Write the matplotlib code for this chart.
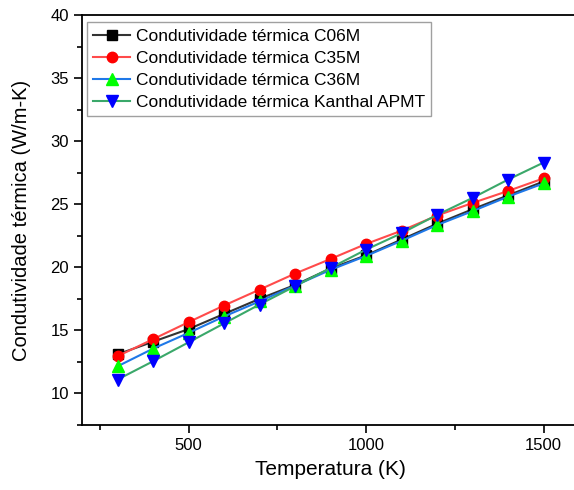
import matplotlib
matplotlib.use("Agg")
import matplotlib.pyplot as plt
from matplotlib.ticker import MultipleLocator

plt.rcParams['font.family'] = ['Liberation Sans', 'DejaVu Sans']

# temperatura (K)
temp = [300, 400, 500, 600, 700, 800, 900, 1000, 1100, 1200, 1300, 1400, 1500]

# condutividade termica (W/m-K)
k_c06m = [13.1, 14.1, 15.1, 16.3, 17.5, 18.6, 19.9, 20.95, 22.2, 23.45, 24.6, 25.7, 26.8]
k_c35m = [12.95, 14.3, 15.65, 16.97, 18.23, 19.5, 20.66, 21.85, 22.9, 24.1, 25.1, 26.05, 27.05]
k_c36m = [12.15, 13.55, 14.8, 16.1, 17.3, 18.55, 19.8, 20.9, 22.1, 23.35, 24.45, 25.6, 26.65]
k_kanthal = [11.1, 12.55, 14.05, 15.55, 17.05, 18.5, 19.95, 21.4, 22.7, 24.15, 25.5, 26.95, 28.3]

fig = plt.figure(figsize=(5.74, 4.9), dpi=100)
ax = fig.add_axes([82/574, 1 - 425/490, 497/574, 410/490])

ax.plot(temp, k_c06m, color='#333333', lw=1.5, marker='s', ms=7, mfc='black', mec='black',
        label='Condutividade térmica C06M')
ax.plot(temp, k_c35m, color='#ff4b4b', lw=1.5, marker='o', ms=7.5, mfc='red', mec='red',
        label='Condutividade térmica C35M')
ax.plot(temp, k_c36m, color='#1f78e8', lw=1.5, marker='^', ms=8, mfc='#00ff00', mec='#00ff00',
        label='Condutividade térmica C36M')
ax.plot(temp, k_kanthal, color='#3aa86a', lw=1.5, marker='v', ms=8, mfc='blue', mec='blue',
        label='Condutividade térmica Kanthal APMT')

ax.set_xlim(200, 1600)
ax.set_ylim(7.5, 40)
ax.xaxis.set_major_locator(MultipleLocator(500))
ax.xaxis.set_minor_locator(MultipleLocator(250))
ax.yaxis.set_major_locator(MultipleLocator(5))
ax.yaxis.set_minor_locator(MultipleLocator(2.5))
ax.tick_params(which='major', direction='out', length=6, width=1.2, labelsize=12)
ax.tick_params(which='minor', direction='out', length=3.5, width=1.2)
for s in ax.spines.values():
    s.set_linewidth(1.3)

ax.set_xlabel('Temperatura (K)', fontsize=15, labelpad=5)
ax.set_ylabel('Condutividade térmica (W/m-K)', fontsize=14.5, labelpad=14)

leg = ax.legend(loc='upper left', bbox_to_anchor=(0.01, 0.982), fontsize=12.5,
                frameon=True, fancybox=False, edgecolor='#888888',
                handlelength=2.15, handletextpad=0.3, borderpad=0.35,
                labelspacing=0.4, borderaxespad=0)
leg.get_frame().set_linewidth(1.0)

fig.savefig('out.png', dpi=100)
